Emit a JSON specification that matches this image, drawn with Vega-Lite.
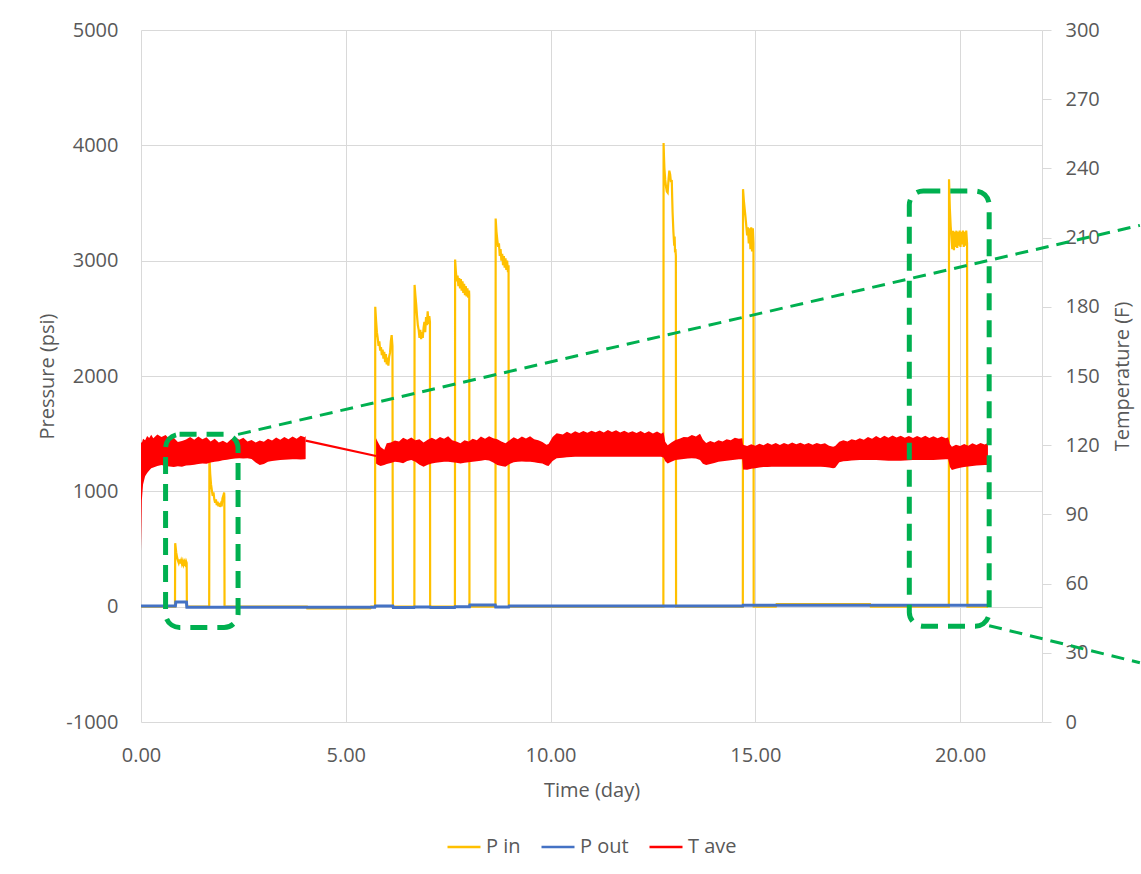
{
"$schema": "https://vega.github.io/schema/vega-lite/v6.json",
"width": 901,
"height": 692,
"autosize": "none",
"padding": {"left": 141, "top": 30, "right": 99, "bottom": 152},
"background": "#FFFFFF",
"config": {
  "font": "Open Sans",
  "view": {"stroke": null},
  "axis": {"labelFont": "Open Sans", "labelFontSize": 20, "labelColor": "#595959", "titleFont": "Open Sans", "titleFontSize": 20, "titleColor": "#595959", "titleFontWeight": "normal", "gridColor": "#D9D9D9", "gridWidth": 1, "domainColor": "#D9D9D9", "tickColor": "#D9D9D9", "labelFlush": false},
  "legend": {"labelFont": "Open Sans", "labelFontSize": 20, "labelColor": "#595959"}
},
"datasets": {
  "press": [
    {"t":0,"P":0,"s":"P in"},{"t":0.83,"P":0,"s":"P in"},{"t":0.835,"P":550,"s":"P in"},{"t":0.86,"P":470,"s":"P in"},{"t":0.88,"P":430,"s":"P in"},{"t":0.9,"P":400,"s":"P in"},{"t":0.92,"P":380,"s":"P in"},{"t":0.94,"P":410,"s":"P in"},{"t":0.96,"P":375,"s":"P in"},{"t":0.98,"P":400,"s":"P in"},{"t":1.0,"P":370,"s":"P in"},{"t":1.02,"P":395,"s":"P in"},{"t":1.04,"P":365,"s":"P in"},{"t":1.06,"P":390,"s":"P in"},{"t":1.08,"P":370,"s":"P in"},{"t":1.1,"P":395,"s":"P in"},{"t":1.115,"P":380,"s":"P in"},{"t":1.12,"P":0,"s":"P in"},
    {"t":1.665,"P":0,"s":"P in"},{"t":1.67,"P":1300,"s":"P in"},{"t":1.69,"P":1150,"s":"P in"},{"t":1.71,"P":1060,"s":"P in"},{"t":1.73,"P":1010,"s":"P in"},{"t":1.75,"P":960,"s":"P in"},{"t":1.77,"P":990,"s":"P in"},{"t":1.79,"P":930,"s":"P in"},{"t":1.81,"P":900,"s":"P in"},{"t":1.83,"P":930,"s":"P in"},{"t":1.85,"P":880,"s":"P in"},{"t":1.87,"P":910,"s":"P in"},{"t":1.89,"P":870,"s":"P in"},{"t":1.91,"P":900,"s":"P in"},{"t":1.93,"P":865,"s":"P in"},{"t":1.95,"P":890,"s":"P in"},{"t":1.97,"P":870,"s":"P in"},{"t":1.99,"P":940,"s":"P in"},{"t":2.01,"P":960,"s":"P in"},{"t":2.03,"P":990,"s":"P in"},{"t":2.035,"P":950,"s":"P in"},{"t":2.04,"P":0,"s":"P in"},
    {"t":4.05,"P":0,"s":"P in"},{"t":4.06,"P":-15,"s":"P in"},{"t":5.6,"P":-15,"s":"P in"},{"t":5.62,"P":0,"s":"P in"},
    {"t":5.715,"P":0,"s":"P in"},{"t":5.72,"P":2600,"s":"P in"},{"t":5.74,"P":2480,"s":"P in"},{"t":5.76,"P":2380,"s":"P in"},{"t":5.78,"P":2330,"s":"P in"},{"t":5.8,"P":2260,"s":"P in"},{"t":5.82,"P":2300,"s":"P in"},{"t":5.84,"P":2220,"s":"P in"},{"t":5.86,"P":2250,"s":"P in"},{"t":5.88,"P":2180,"s":"P in"},{"t":5.9,"P":2230,"s":"P in"},{"t":5.92,"P":2150,"s":"P in"},{"t":5.94,"P":2210,"s":"P in"},{"t":5.96,"P":2120,"s":"P in"},{"t":5.98,"P":2190,"s":"P in"},{"t":6.0,"P":2100,"s":"P in"},{"t":6.02,"P":2160,"s":"P in"},{"t":6.04,"P":2090,"s":"P in"},{"t":6.06,"P":2170,"s":"P in"},{"t":6.08,"P":2200,"s":"P in"},{"t":6.1,"P":2300,"s":"P in"},{"t":6.12,"P":2355,"s":"P in"},{"t":6.14,"P":2260,"s":"P in"},{"t":6.15,"P":0,"s":"P in"},
    {"t":6.675,"P":0,"s":"P in"},{"t":6.68,"P":2790,"s":"P in"},{"t":6.7,"P":2700,"s":"P in"},{"t":6.72,"P":2620,"s":"P in"},{"t":6.74,"P":2520,"s":"P in"},{"t":6.76,"P":2440,"s":"P in"},{"t":6.78,"P":2400,"s":"P in"},{"t":6.8,"P":2330,"s":"P in"},{"t":6.82,"P":2400,"s":"P in"},{"t":6.84,"P":2320,"s":"P in"},{"t":6.86,"P":2380,"s":"P in"},{"t":6.88,"P":2330,"s":"P in"},{"t":6.9,"P":2420,"s":"P in"},{"t":6.92,"P":2470,"s":"P in"},{"t":6.94,"P":2380,"s":"P in"},{"t":6.96,"P":2510,"s":"P in"},{"t":6.98,"P":2440,"s":"P in"},{"t":7.0,"P":2560,"s":"P in"},{"t":7.02,"P":2450,"s":"P in"},{"t":7.04,"P":2520,"s":"P in"},{"t":7.055,"P":2470,"s":"P in"},{"t":7.06,"P":0,"s":"P in"},
    {"t":7.665,"P":0,"s":"P in"},{"t":7.67,"P":3010,"s":"P in"},{"t":7.69,"P":2900,"s":"P in"},{"t":7.71,"P":2820,"s":"P in"},{"t":7.73,"P":2870,"s":"P in"},{"t":7.75,"P":2780,"s":"P in"},{"t":7.77,"P":2850,"s":"P in"},{"t":7.79,"P":2760,"s":"P in"},{"t":7.81,"P":2840,"s":"P in"},{"t":7.83,"P":2740,"s":"P in"},{"t":7.85,"P":2820,"s":"P in"},{"t":7.87,"P":2720,"s":"P in"},{"t":7.89,"P":2800,"s":"P in"},{"t":7.91,"P":2700,"s":"P in"},{"t":7.93,"P":2780,"s":"P in"},{"t":7.95,"P":2690,"s":"P in"},{"t":7.97,"P":2760,"s":"P in"},{"t":7.99,"P":2680,"s":"P in"},{"t":8.01,"P":2740,"s":"P in"},{"t":8.015,"P":2700,"s":"P in"},{"t":8.02,"P":0,"s":"P in"},
    {"t":8.655,"P":0,"s":"P in"},{"t":8.66,"P":3365,"s":"P in"},{"t":8.68,"P":3250,"s":"P in"},{"t":8.7,"P":3180,"s":"P in"},{"t":8.72,"P":3120,"s":"P in"},{"t":8.74,"P":3150,"s":"P in"},{"t":8.76,"P":3040,"s":"P in"},{"t":8.78,"P":3100,"s":"P in"},{"t":8.8,"P":3000,"s":"P in"},{"t":8.82,"P":3060,"s":"P in"},{"t":8.84,"P":2960,"s":"P in"},{"t":8.86,"P":3040,"s":"P in"},{"t":8.88,"P":2940,"s":"P in"},{"t":8.9,"P":3020,"s":"P in"},{"t":8.92,"P":2920,"s":"P in"},{"t":8.94,"P":3000,"s":"P in"},{"t":8.96,"P":2900,"s":"P in"},{"t":8.975,"P":2960,"s":"P in"},{"t":8.98,"P":0,"s":"P in"},
    {"t":12.755,"P":0,"s":"P in"},{"t":12.76,"P":4020,"s":"P in"},{"t":12.77,"P":3900,"s":"P in"},{"t":12.78,"P":3800,"s":"P in"},{"t":12.8,"P":3700,"s":"P in"},{"t":12.82,"P":3640,"s":"P in"},{"t":12.84,"P":3600,"s":"P in"},{"t":12.86,"P":3590,"s":"P in"},{"t":12.88,"P":3700,"s":"P in"},{"t":12.9,"P":3780,"s":"P in"},{"t":12.92,"P":3750,"s":"P in"},{"t":12.94,"P":3680,"s":"P in"},{"t":12.96,"P":3700,"s":"P in"},{"t":12.97,"P":3550,"s":"P in"},{"t":12.98,"P":3420,"s":"P in"},{"t":13.0,"P":3250,"s":"P in"},{"t":13.02,"P":3130,"s":"P in"},{"t":13.03,"P":3210,"s":"P in"},{"t":13.04,"P":3070,"s":"P in"},{"t":13.05,"P":3100,"s":"P in"},{"t":13.06,"P":3040,"s":"P in"},{"t":13.065,"P":0,"s":"P in"},
    {"t":14.695,"P":0,"s":"P in"},{"t":14.7,"P":3620,"s":"P in"},{"t":14.72,"P":3520,"s":"P in"},{"t":14.74,"P":3450,"s":"P in"},{"t":14.76,"P":3380,"s":"P in"},{"t":14.78,"P":3300,"s":"P in"},{"t":14.8,"P":3220,"s":"P in"},{"t":14.82,"P":3290,"s":"P in"},{"t":14.84,"P":3150,"s":"P in"},{"t":14.86,"P":3280,"s":"P in"},{"t":14.88,"P":3100,"s":"P in"},{"t":14.9,"P":3290,"s":"P in"},{"t":14.92,"P":3080,"s":"P in"},{"t":14.94,"P":3280,"s":"P in"},{"t":14.955,"P":3150,"s":"P in"},{"t":14.96,"P":0,"s":"P in"},
    {"t":15.5,"P":0,"s":"P in"},{"t":15.52,"P":22,"s":"P in"},{"t":17.8,"P":22,"s":"P in"},{"t":17.82,"P":0,"s":"P in"},
    {"t":19.725,"P":0,"s":"P in"},{"t":19.73,"P":3705,"s":"P in"},{"t":19.75,"P":3450,"s":"P in"},{"t":19.77,"P":3300,"s":"P in"},{"t":19.79,"P":3200,"s":"P in"},{"t":19.81,"P":3100,"s":"P in"},{"t":19.83,"P":3260,"s":"P in"},{"t":19.85,"P":3090,"s":"P in"},{"t":19.87,"P":3250,"s":"P in"},{"t":19.89,"P":3120,"s":"P in"},{"t":19.91,"P":3260,"s":"P in"},{"t":19.93,"P":3110,"s":"P in"},{"t":19.95,"P":3250,"s":"P in"},{"t":19.97,"P":3130,"s":"P in"},{"t":19.99,"P":3260,"s":"P in"},{"t":20.01,"P":3120,"s":"P in"},{"t":20.03,"P":3250,"s":"P in"},{"t":20.05,"P":3140,"s":"P in"},{"t":20.07,"P":3260,"s":"P in"},{"t":20.09,"P":3120,"s":"P in"},{"t":20.11,"P":3250,"s":"P in"},{"t":20.13,"P":3130,"s":"P in"},{"t":20.15,"P":3260,"s":"P in"},{"t":20.17,"P":3150,"s":"P in"},{"t":20.18,"P":0,"s":"P in"},{"t":20.68,"P":0,"s":"P in"},
    {"t":0,"P":5,"s":"P out"},{"t":0.84,"P":5,"s":"P out"},{"t":0.85,"P":40,"s":"P out"},{"t":1.11,"P":40,"s":"P out"},{"t":1.12,"P":-5,"s":"P out"},{"t":5.71,"P":-5,"s":"P out"},{"t":5.72,"P":5,"s":"P out"},{"t":6.15,"P":5,"s":"P out"},{"t":6.16,"P":-8,"s":"P out"},{"t":6.67,"P":-8,"s":"P out"},{"t":6.68,"P":-2,"s":"P out"},{"t":7.06,"P":-2,"s":"P out"},{"t":7.07,"P":-8,"s":"P out"},{"t":7.66,"P":-8,"s":"P out"},{"t":7.67,"P":0,"s":"P out"},{"t":8.02,"P":0,"s":"P out"},{"t":8.03,"P":15,"s":"P out"},{"t":8.65,"P":15,"s":"P out"},{"t":8.66,"P":-2,"s":"P out"},{"t":8.98,"P":-2,"s":"P out"},{"t":8.99,"P":5,"s":"P out"},{"t":14.69,"P":5,"s":"P out"},{"t":14.7,"P":12,"s":"P out"},{"t":20.68,"P":12,"s":"P out"}
  ],
  "temp": [
    {"t":0,"T":74,"T2":121.5,"g":1},{"t":0.02,"T":96,"T2":121,"g":1},{"t":0.05,"T":103,"T2":122.8,"g":1},{"t":0.1,"T":106.5,"T2":122.2,"g":1},{"t":0.15,"T":108,"T2":124,"g":1},{"t":0.2,"T":109,"T2":123.1,"g":1},{"t":0.25,"T":110,"T2":124.5,"g":1},{"t":0.3,"T":110.3,"T2":123,"g":1},{"t":0.4,"T":111,"T2":124.6,"g":1},{"t":0.5,"T":111.4,"T2":123.6,"g":1},{"t":0.6,"T":111,"T2":124.4,"g":1},{"t":0.7,"T":110.8,"T2":122.6,"g":1},{"t":0.8,"T":110.6,"T2":123.2,"g":1},{"t":0.9,"T":110.9,"T2":121.4,"g":1},{"t":1.0,"T":110.7,"T2":121.8,"g":1},{"t":1.1,"T":111.2,"T2":122.5,"g":1},{"t":1.2,"T":111.3,"T2":123.6,"g":1},{"t":1.3,"T":111.5,"T2":122.4,"g":1},{"t":1.4,"T":111.8,"T2":123.8,"g":1},{"t":1.5,"T":112.1,"T2":122.6,"g":1},{"t":1.6,"T":112,"T2":123.4,"g":1},{"t":1.7,"T":112.5,"T2":121.6,"g":1},{"t":1.8,"T":112.8,"T2":122.8,"g":1},{"t":1.9,"T":113,"T2":121.2,"g":1},{"t":2.0,"T":113.5,"T2":121.9,"g":1},{"t":2.1,"T":113.7,"T2":121,"g":1},{"t":2.2,"T":114,"T2":122.6,"g":1},{"t":2.3,"T":114.2,"T2":123.5,"g":1},{"t":2.4,"T":114.3,"T2":122.4,"g":1},{"t":2.5,"T":114.2,"T2":123.2,"g":1},{"t":2.6,"T":114.3,"T2":121.6,"g":1},{"t":2.7,"T":114,"T2":122.3,"g":1},{"t":2.8,"T":112.5,"T2":121.2,"g":1},{"t":2.9,"T":111.4,"T2":122,"g":1},{"t":3.0,"T":111.8,"T2":121.5,"g":1},{"t":3.1,"T":112.8,"T2":122.8,"g":1},{"t":3.2,"T":113.2,"T2":122,"g":1},{"t":3.3,"T":113.4,"T2":123.3,"g":1},{"t":3.4,"T":113.6,"T2":122.4,"g":1},{"t":3.5,"T":113.7,"T2":123.6,"g":1},{"t":3.6,"T":113.8,"T2":122.6,"g":1},{"t":3.7,"T":113.9,"T2":123.8,"g":1},{"t":3.8,"T":113.9,"T2":122.8,"g":1},{"t":3.9,"T":113.8,"T2":124.1,"g":1},{"t":4.0,"T":113.9,"T2":123.4,"g":1},{"t":4.02,"T":114,"T2":124,"g":1},
    {"t":5.74,"T":112.1,"T2":123,"g":2},{"t":5.78,"T":111.5,"T2":121.5,"g":2},{"t":5.85,"T":111,"T2":119.2,"g":2},{"t":5.94,"T":111.4,"T2":118,"g":2},{"t":6.0,"T":111.8,"T2":120.8,"g":2},{"t":6.1,"T":112.3,"T2":121.2,"g":2},{"t":6.2,"T":112.8,"T2":122,"g":2},{"t":6.3,"T":112.6,"T2":121.6,"g":2},{"t":6.4,"T":112.2,"T2":123.2,"g":2},{"t":6.5,"T":113.2,"T2":122.4,"g":2},{"t":6.6,"T":113.6,"T2":123.3,"g":2},{"t":6.7,"T":112.8,"T2":122.2,"g":2},{"t":6.8,"T":111.5,"T2":122.6,"g":2},{"t":6.9,"T":110.7,"T2":121.2,"g":2},{"t":7.0,"T":111.5,"T2":122.4,"g":2},{"t":7.1,"T":112.1,"T2":123.2,"g":2},{"t":7.2,"T":112.4,"T2":122.4,"g":2},{"t":7.3,"T":112.6,"T2":123.6,"g":2},{"t":7.4,"T":112.8,"T2":122.8,"g":2},{"t":7.5,"T":112.8,"T2":123.9,"g":2},{"t":7.6,"T":112.6,"T2":122.2,"g":2},{"t":7.7,"T":112.4,"T2":121.6,"g":2},{"t":7.8,"T":112.1,"T2":120.8,"g":2},{"t":7.9,"T":112.4,"T2":122.2,"g":2},{"t":8.0,"T":112.6,"T2":121.6,"g":2},{"t":8.1,"T":112.8,"T2":122.8,"g":2},{"t":8.2,"T":113,"T2":122.2,"g":2},{"t":8.3,"T":113.3,"T2":123.8,"g":2},{"t":8.4,"T":113.6,"T2":122.8,"g":2},{"t":8.5,"T":113.4,"T2":123.9,"g":2},{"t":8.6,"T":112.5,"T2":123,"g":2},{"t":8.7,"T":111.4,"T2":122.6,"g":2},{"t":8.8,"T":111,"T2":121.6,"g":2},{"t":8.9,"T":110.7,"T2":120.8,"g":2},{"t":9.0,"T":111.8,"T2":122.2,"g":2},{"t":9.1,"T":112.6,"T2":123.4,"g":2},{"t":9.2,"T":112.8,"T2":122.6,"g":2},{"t":9.3,"T":112.9,"T2":123.8,"g":2},{"t":9.4,"T":112.8,"T2":122.9,"g":2},{"t":9.5,"T":112.8,"T2":123.9,"g":2},{"t":9.6,"T":112.6,"T2":122.6,"g":2},{"t":9.7,"T":112.3,"T2":122.2,"g":2},{"t":9.8,"T":112.1,"T2":121.4,"g":2},{"t":9.9,"T":111.2,"T2":120.2,"g":2},{"t":9.95,"T":111,"T2":120.5,"g":2},{"t":10.05,"T":113.2,"T2":123.6,"g":2},{"t":10.15,"T":114.3,"T2":125.2,"g":2},{"t":10.3,"T":114.6,"T2":124.6,"g":2},{"t":10.4,"T":114.8,"T2":125.8,"g":2},{"t":10.5,"T":114.9,"T2":125,"g":2},{"t":10.6,"T":115,"T2":126.1,"g":2},{"t":10.7,"T":115,"T2":125.3,"g":2},{"t":10.8,"T":115,"T2":126.2,"g":2},{"t":10.9,"T":115,"T2":125.4,"g":2},{"t":11.0,"T":115,"T2":126.3,"g":2},{"t":11.1,"T":115,"T2":125.6,"g":2},{"t":11.2,"T":115,"T2":126.4,"g":2},{"t":11.3,"T":115,"T2":125.5,"g":2},{"t":11.4,"T":115,"T2":126.6,"g":2},{"t":11.5,"T":115,"T2":125.7,"g":2},{"t":11.6,"T":115,"T2":126.5,"g":2},{"t":11.7,"T":115,"T2":125.5,"g":2},{"t":11.8,"T":115,"T2":126.3,"g":2},{"t":11.9,"T":115,"T2":125.4,"g":2},{"t":12.0,"T":115,"T2":126.1,"g":2},{"t":12.1,"T":115,"T2":125.3,"g":2},{"t":12.2,"T":115,"T2":126.2,"g":2},{"t":12.3,"T":115,"T2":125.2,"g":2},{"t":12.4,"T":115,"T2":126,"g":2},{"t":12.5,"T":115,"T2":125.1,"g":2},{"t":12.6,"T":115,"T2":125.9,"g":2},{"t":12.7,"T":115,"T2":125,"g":2},{"t":12.76,"T":114.6,"T2":125.6,"g":2},{"t":12.8,"T":113,"T2":121.5,"g":2},{"t":12.86,"T":112.1,"T2":120,"g":2},{"t":12.95,"T":112.8,"T2":121.2,"g":2},{"t":13.05,"T":113.6,"T2":122.3,"g":2},{"t":13.15,"T":113.8,"T2":122.8,"g":2},{"t":13.25,"T":114,"T2":123.6,"g":2},{"t":13.35,"T":114.2,"T2":123.4,"g":2},{"t":13.45,"T":114.3,"T2":124.4,"g":2},{"t":13.55,"T":114.2,"T2":123.8,"g":2},{"t":13.65,"T":113.6,"T2":125,"g":2},{"t":13.72,"T":112,"T2":122.5,"g":2},{"t":13.8,"T":111.4,"T2":121,"g":2},{"t":13.9,"T":111.8,"T2":121.8,"g":2},{"t":14.0,"T":112.3,"T2":121.2,"g":2},{"t":14.1,"T":112.8,"T2":122.2,"g":2},{"t":14.2,"T":113,"T2":121.6,"g":2},{"t":14.3,"T":113.3,"T2":122.6,"g":2},{"t":14.4,"T":113.5,"T2":122.2,"g":2},{"t":14.5,"T":113.7,"T2":123.2,"g":2},{"t":14.6,"T":113.9,"T2":122.8,"g":2},{"t":14.68,"T":113.9,"T2":123,"g":2},{"t":14.7,"T":109.5,"T2":120.2,"g":2},{"t":14.8,"T":109.4,"T2":119.6,"g":2},{"t":14.9,"T":109.8,"T2":120.4,"g":2},{"t":15.0,"T":110,"T2":119.8,"g":2},{"t":15.1,"T":110.3,"T2":120.6,"g":2},{"t":15.2,"T":110.5,"T2":120,"g":2},{"t":15.3,"T":110.6,"T2":121,"g":2},{"t":15.4,"T":110.7,"T2":120.2,"g":2},{"t":15.5,"T":110.7,"T2":120.9,"g":2},{"t":15.6,"T":110.7,"T2":120.1,"g":2},{"t":15.7,"T":110.7,"T2":121,"g":2},{"t":15.8,"T":110.7,"T2":120.3,"g":2},{"t":15.9,"T":110.7,"T2":121.2,"g":2},{"t":16.0,"T":110.7,"T2":120.4,"g":2},{"t":16.1,"T":110.7,"T2":121.1,"g":2},{"t":16.2,"T":110.7,"T2":120.3,"g":2},{"t":16.3,"T":110.7,"T2":121,"g":2},{"t":16.4,"T":110.7,"T2":120.2,"g":2},{"t":16.5,"T":110.7,"T2":120.9,"g":2},{"t":16.6,"T":110.7,"T2":120.4,"g":2},{"t":16.7,"T":110.6,"T2":120.8,"g":2},{"t":16.8,"T":110.3,"T2":119.8,"g":2},{"t":16.9,"T":110,"T2":119.3,"g":2},{"t":16.95,"T":110.2,"T2":119.6,"g":2},{"t":17.05,"T":112.6,"T2":121.5,"g":2},{"t":17.15,"T":113,"T2":122.2,"g":2},{"t":17.25,"T":113.2,"T2":121.6,"g":2},{"t":17.35,"T":113.4,"T2":122.6,"g":2},{"t":17.45,"T":113.5,"T2":122.1,"g":2},{"t":17.55,"T":113.6,"T2":123,"g":2},{"t":17.65,"T":113.6,"T2":122.4,"g":2},{"t":17.75,"T":113.6,"T2":123.6,"g":2},{"t":17.85,"T":113.6,"T2":122.8,"g":2},{"t":17.95,"T":113.6,"T2":124,"g":2},{"t":18.05,"T":113.5,"T2":123,"g":2},{"t":18.15,"T":113.4,"T2":124.1,"g":2},{"t":18.25,"T":113.3,"T2":123.2,"g":2},{"t":18.35,"T":113.3,"T2":124.2,"g":2},{"t":18.45,"T":113.3,"T2":123.3,"g":2},{"t":18.55,"T":113.3,"T2":124.1,"g":2},{"t":18.65,"T":113.4,"T2":123.2,"g":2},{"t":18.75,"T":113.5,"T2":124,"g":2},{"t":18.85,"T":113.6,"T2":123.1,"g":2},{"t":18.95,"T":113.6,"T2":124,"g":2},{"t":19.05,"T":113.6,"T2":123.2,"g":2},{"t":19.15,"T":113.6,"T2":124.1,"g":2},{"t":19.25,"T":113.6,"T2":123.1,"g":2},{"t":19.35,"T":113.6,"T2":123.9,"g":2},{"t":19.45,"T":113.7,"T2":123,"g":2},{"t":19.55,"T":113.8,"T2":123.8,"g":2},{"t":19.65,"T":113.9,"T2":123,"g":2},{"t":19.71,"T":113.9,"T2":123.4,"g":2},{"t":19.75,"T":110.5,"T2":120.5,"g":2},{"t":19.8,"T":109.2,"T2":119.3,"g":2},{"t":19.9,"T":109.8,"T2":120.2,"g":2},{"t":20.0,"T":110.2,"T2":119.6,"g":2},{"t":20.1,"T":110.6,"T2":120.5,"g":2},{"t":20.2,"T":110.8,"T2":119.8,"g":2},{"t":20.3,"T":111,"T2":120.8,"g":2},{"t":20.4,"T":111.2,"T2":120.1,"g":2},{"t":20.5,"T":111.3,"T2":121,"g":2},{"t":20.6,"T":111.4,"T2":120.3,"g":2},{"t":20.68,"T":111.4,"T2":121,"g":2}
  ],
  "tline": [
    {"t":4.02,"T":122,"s":"T ave"},{"t":5.74,"T":115.3,"s":"T ave"}
  ],
  "boxes": [
    {"t":0.6,"t2":2.37,"P":1494,"P2":-180},
    {"t":18.76,"t2":20.71,"P":3604,"P2":-170}
  ],
  "callouts": [
    {"t":2.37,"P":1494,"t2":24.39,"P2":3306},
    {"t":20.71,"P":-165,"t2":24.39,"P2":-486}
  ]
},
"layer": [
  {
    "data": {"name": "press"},
    "encoding": {
      "x": {"field": "t", "type": "quantitative", "scale": {"domain": [0, 22], "nice": false, "zero": false},
            "axis": {"values": [0, 5, 10, 15, 20], "format": ".2f", "grid": true, "ticks": false, "tickSize": 0, "domain": false, "labelFlush": false, "labelPadding": 23, "title": "Time (day)", "titleX": 450.5, "titleY": 68, "titleAlign": "center", "titleBaseline": "middle"}},
      "y": {"field": "P", "type": "quantitative", "scale": {"domain": [-1000, 5000], "nice": false, "zero": false},
            "axis": {"orient": "left", "values": [-1000, 0, 1000, 2000, 3000, 4000, 5000], "labelExpr": "'' + datum.value", "grid": true, "ticks": false, "tickSize": 0, "domain": false, "labelFlush": false, "labelPadding": 23, "title": "Pressure (psi)", "titleAngle": -90, "titleX": -94, "titleY": 346, "titleAlign": "center", "titleBaseline": "middle"}},
      "color": {"field": "s", "type": "nominal", "scale": {"domain": ["P in", "P out", "T ave"], "range": ["#FFC000", "#4472C4", "#FF0000"]},
                "legend": {"title": null, "orient": "none", "legendX": 305, "legendY": 799, "direction": "horizontal", "symbolType": "stroke", "symbolSize": 1089, "symbolStrokeWidth": 2.5, "columnPadding": 15, "labelOffset": 4}}
    },
    "layer": [
      {"transform": [{"filter": "datum.s === 'P in'"}], "mark": {"type": "line", "strokeWidth": 2.2}},
      {"transform": [{"filter": "datum.s === 'P out'"}], "mark": {"type": "line", "strokeWidth": 3}}
    ]
  },
  {
    "layer": [
      {"data": {"name": "temp"}, "mark": {"type": "area", "color": "#FF0000", "orient": "vertical"},
       "encoding": {
         "x": {"field": "t", "type": "quantitative"},
         "y": {"field": "T", "type": "quantitative", "scale": {"domain": [0, 300], "nice": false, "zero": false},
               "axis": {"orient": "right", "values": [0, 30, 60, 90, 120, 150, 180, 210, 240, 270, 300], "grid": false, "ticks": true, "tickSize": 9, "domain": true, "labelFlush": false, "labelPadding": 14, "title": "Temperature (F)", "titleAngle": -90, "titleX": 80, "titleY": 346, "titleAlign": "center", "titleBaseline": "middle"}},
         "y2": {"field": "T2"},
         "detail": {"field": "g", "type": "nominal"}
       }},
      {"data": {"name": "tline"}, "mark": {"type": "line", "strokeWidth": 2.2, "color": "#FF0000"},
       "encoding": {
         "x": {"field": "t", "type": "quantitative"},
         "y": {"field": "T", "type": "quantitative"}
       }}
    ]
  },
  {
    "layer": [
      {"data": {"name": "boxes"}, "mark": {"type": "rect", "filled": false, "color": "#00B050", "stroke": "#00B050", "strokeWidth": 5, "strokeDash": [17, 10], "cornerRadius": 14},
       "encoding": {
         "x": {"field": "t", "type": "quantitative"},
         "x2": {"field": "t2"},
         "y": {"field": "P", "type": "quantitative", "scale": {"domain": [-1000, 5000], "nice": false, "zero": false}, "axis": null},
         "y2": {"field": "P2"}
       }},
      {"data": {"name": "callouts"}, "mark": {"type": "rule", "color": "#00B050", "strokeWidth": 3, "strokeDash": [13, 8]},
       "encoding": {
         "x": {"field": "t", "type": "quantitative"},
         "x2": {"field": "t2"},
         "y": {"field": "P", "type": "quantitative", "axis": null},
         "y2": {"field": "P2"}
       }}
    ]
  }
],
"resolve": {"scale": {"y": "independent"}}
}
